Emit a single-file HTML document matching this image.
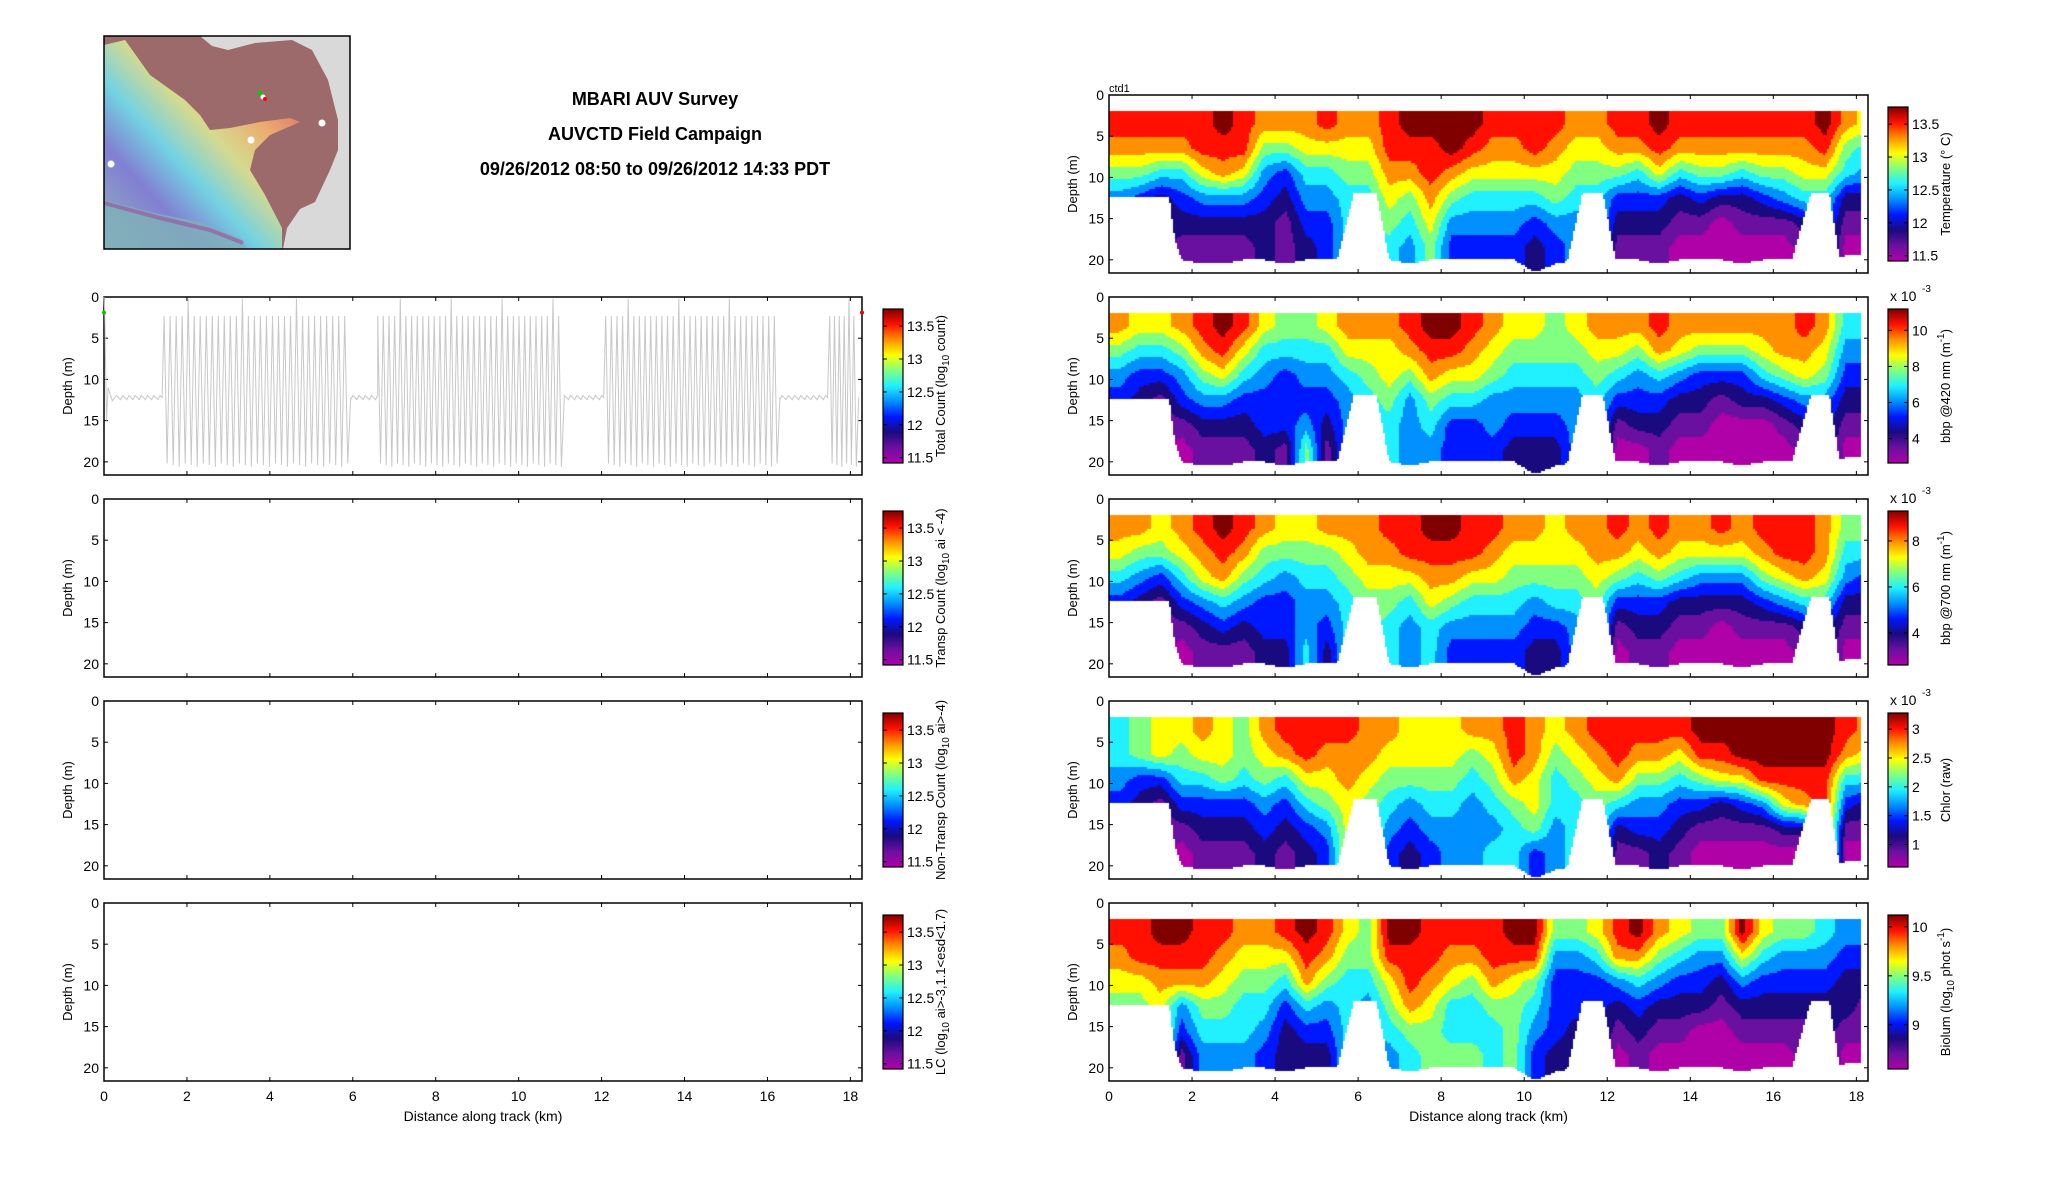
<!DOCTYPE html>
<html><head><meta charset="utf-8"><title>MBARI AUV Survey</title>
<style>
html,body{margin:0;padding:0;background:#fff;}
#wrap{position:relative;width:2052px;height:1188px;overflow:hidden;background:#fff;}
canvas{position:absolute;}
svg{position:absolute;left:0;top:0;}
text{font-family:"Liberation Sans",sans-serif;fill:#000;}
</style></head>
<body>
<div id="wrap">
<canvas id="c0"></canvas>
<canvas id="c1"></canvas>
<canvas id="c2"></canvas>
<canvas id="c3"></canvas>
<canvas id="c4"></canvas>
<svg id="svg" width="2052" height="1188" xmlns="http://www.w3.org/2000/svg">
<defs>
<linearGradient id="jet" x1="0" y1="1" x2="0" y2="0">
<stop offset="0" stop-color="#b000a8"/><stop offset="0.1" stop-color="#6a10a0"/><stop offset="0.2" stop-color="#1a0a80"/>
<stop offset="0.3" stop-color="#0018ff"/><stop offset="0.4" stop-color="#0090ff"/><stop offset="0.5" stop-color="#20f0ff"/>
<stop offset="0.6" stop-color="#80ff80"/><stop offset="0.7" stop-color="#ffff00"/><stop offset="0.8" stop-color="#ff9000"/>
<stop offset="0.9" stop-color="#ff1000"/><stop offset="1" stop-color="#800000"/>
</linearGradient>
<linearGradient id="mapRainbow" x1="0" y1="1" x2="1" y2="0">
<stop offset="0" stop-color="#8fb8c0"/><stop offset="0.25" stop-color="#8080d8"/><stop offset="0.4" stop-color="#70d8e8"/>
<stop offset="0.55" stop-color="#d8e090"/><stop offset="0.7" stop-color="#f0b070"/><stop offset="0.85" stop-color="#e07070"/><stop offset="1" stop-color="#a06868"/>
</linearGradient>
</defs>
<g>
<rect x="104" y="36" width="246" height="213" fill="#d9d9d9"/>
<path d="M104,36 L200,36 L212,46 L228,50 L255,43 L292,40 L312,50 L328,80 L338,120 L338,150 L330,170 L315,202 L300,209 L287,228 L283,249 L104,249 Z" fill="#9c6a6a"/>
<path d="M104,45 L125,40 L150,75 L185,100 L200,115 L210,130 L230,128 L260,122 L290,118 L300,122 L270,135 L255,150 L250,170 L265,195 L282,228 L282,249 L104,249 Z" fill="url(#mapRainbow)" opacity="0.95"/>
<path d="M104,200 L150,212 L200,222 L240,238 L248,249 L104,249 Z" fill="#7fb0b8" opacity="0.8"/>
<path d="M104,203 L160,218 L210,230 L243,243" stroke="#9a50a0" stroke-width="4" fill="none" opacity="0.6"/>
<circle cx="111" cy="164" r="3.5" fill="#fff"/><circle cx="322" cy="123" r="3.5" fill="#fff"/><circle cx="251" cy="140" r="3.5" fill="#fff"/>
<circle cx="260" cy="93" r="2.5" fill="#0c0"/><circle cx="263" cy="97" r="2.5" fill="#fff"/><circle cx="265" cy="99" r="2" fill="#f00"/>
<rect x="104" y="36" width="246" height="213" fill="none" stroke="#000" stroke-width="1.5"/>
</g>
<g font-weight="bold" font-size="18" text-anchor="middle">
<text x="655" y="105" style="font-weight:bold">MBARI AUV Survey</text>
<text x="655" y="140" style="font-weight:bold">AUVCTD Field Campaign</text>
<text x="655" y="175" style="font-weight:bold">09/26/2012 08:50 to 09/26/2012 14:33 PDT</text>
</g>
<g id="axesLayer"></g>
</svg>
</div>
<script>
// ---------- data ----------
const distMax = 18.28, depthMax = 21.6;
const xTicks = [0,2,4,6,8,10,12,14,16,18];
const yTicks = [0,5,10,15,20];
const colBottom = [12.5,12.4,12.4,20,20.5,20.5,20,20,20.5,20,20,20,20,20,20.5,20,20,20,20,20,21.5,20.5,20,20,20,20,20.5,20,20,20,20.5,20,20,20,20,19.5,19.5];
// white gaps (level-flight legs): [slope start, flat start, flat end, slope end, depth]
const gapShapes = [[1.35,1.35,1.45,1.65,12.4],[5.5,5.9,6.45,6.75,12],[11.05,11.4,11.9,12.2,12],[16.45,16.9,17.35,17.6,12]];
const tempCols = [[9,8,6,4,4,4],[9,8,6,3,3,3],[9,8,5,2,2,2],[9,8,5,3,2,1],[9,9,7,4,2,1],[10,9,8,4,2,1],[9,9,7,4,2,1],[8,6,4,3,2,2],[8,6,3,2,1,1],[8,7,5,4,3,2],[9,7,5,4,3,3],[8,7,6,5,5,5],[8,7,6,5,5,5],[9,9,8,7,6,5],[10,9,8,6,5,4],[10,9,9,8,7,6],[10,10,8,6,4,3],[10,9,7,5,4,3],[9,8,7,5,4,3],[9,8,7,5,4,3],[9,9,7,5,3,2],[9,8,7,6,4,3],[8,7,6,5,4,4],[8,7,6,5,5,5],[9,8,6,3,2,1],[9,8,5,3,2,1],[10,9,7,3,2,1],[9,8,5,2,1,0],[9,8,6,3,1,0],[9,8,6,2,0,0],[9,8,5,2,1,0],[9,8,6,3,1,0],[9,8,6,4,1,0],[9,8,7,5,2,1],[10,9,7,5,4,4],[8,6,5,2,1,0],[7,5,4,2,1,0]];
const bbp420Cols = [[8,6,4,3,3,3],[7,5,3,2,2,2],[7,5,3,1,1,1],[8,6,4,3,1,0],[9,8,6,4,2,1],[10,9,7,4,2,1],[9,7,5,3,2,1],[7,5,4,3,3,2],[6,5,3,3,3,1],[6,5,4,3,4,6],[7,5,4,3,2,1],[8,7,5,4,4,4],[8,7,6,5,5,5],[8,7,7,6,5,5],[9,8,6,4,4,4],[10,9,8,6,5,4],[10,9,7,5,3,3],[9,8,7,5,3,3],[8,7,6,4,4,3],[7,6,5,4,3,2],[7,6,5,4,3,2],[6,6,5,4,3,2],[7,6,5,4,4,4],[8,7,6,5,5,5],[8,7,5,3,1,0],[8,6,4,3,2,0],[9,8,5,3,2,1],[8,7,4,2,1,0],[8,6,3,2,1,0],[8,6,3,1,0,0],[8,6,3,2,0,0],[8,7,5,2,0,0],[8,8,6,3,1,0],[9,8,7,4,2,1],[8,7,6,4,3,3],[5,4,3,2,1,0],[5,4,3,2,1,0]];
const bbp700Cols = [[8,7,5,3,3,3],[8,6,4,2,2,2],[7,6,3,1,1,1],[8,7,5,3,1,0],[9,8,7,4,2,1],[10,9,8,5,3,1],[9,8,6,4,2,1],[8,6,5,3,3,2],[7,6,4,3,3,2],[7,6,5,4,4,5],[8,6,5,4,3,2],[8,7,6,5,5,5],[8,8,7,6,6,6],[9,8,7,6,5,5],[9,9,7,5,4,4],[10,9,8,7,5,5],[10,9,8,6,4,3],[9,9,7,5,4,3],[9,8,7,5,4,3],[8,7,6,5,4,3],[8,7,6,4,3,2],[7,7,6,5,3,2],[8,7,6,5,4,4],[8,8,7,6,6,6],[9,8,6,3,1,0],[8,7,5,3,2,1],[9,8,6,3,2,1],[8,7,5,2,1,0],[8,7,4,2,1,0],[9,7,4,2,0,0],[8,7,4,2,1,0],[9,8,6,3,1,0],[9,9,7,4,1,0],[9,9,8,5,2,1],[8,8,7,5,3,3],[6,5,4,2,1,0],[6,5,3,2,1,0]];
const chlorCols = [[5,5,4,3,3,3],[6,6,3,2,2,2],[7,7,3,1,1,1],[7,6,5,3,1,0],[8,7,5,3,2,1],[7,7,6,3,2,1],[6,6,5,3,2,1],[8,7,6,4,3,2],[9,8,5,3,2,1],[9,9,7,5,3,2],[9,8,7,6,4,3],[9,8,8,7,7,7],[8,8,7,6,6,6],[8,7,6,5,4,3],[7,7,6,4,3,2],[7,7,6,5,4,3],[7,7,6,5,4,4],[8,6,5,4,4,4],[8,7,6,5,4,5],[9,9,8,6,5,5],[8,8,7,7,6,3],[7,6,5,5,4,4],[8,7,6,5,5,5],[9,8,7,6,6,6],[9,9,8,5,2,1],[9,8,6,4,3,1],[9,8,6,4,3,2],[9,7,5,3,2,1],[10,9,6,3,1,0],[10,9,7,2,1,0],[10,10,7,3,1,0],[10,10,9,4,1,0],[10,10,9,7,2,0],[10,10,9,8,2,0],[10,10,9,9,9,9],[9,8,5,3,1,0],[8,7,5,2,1,0]];
const biolumCols = [[9,8,7,6,6,6],[9,9,7,6,6,6],[10,9,8,7,7,7],[10,9,8,4,3,1],[9,9,8,6,5,4],[9,8,7,6,5,4],[8,7,6,5,5,4],[8,7,6,5,4,3],[9,7,5,3,2,2],[10,9,8,5,3,2],[9,8,6,4,3,2],[7,6,5,5,5,5],[6,6,5,4,4,4],[10,9,7,6,5,4],[10,9,9,8,6,5],[9,9,8,7,6,6],[9,8,7,5,5,6],[9,8,6,5,5,6],[9,9,8,6,5,5],[10,9,7,6,6,6],[10,9,6,5,4,3],[6,4,3,3,3,2],[6,4,3,3,2,2],[7,5,3,3,3,3],[9,8,4,2,1,0],[10,8,5,3,2,1],[8,6,4,2,1,0],[7,5,3,2,1,0],[6,4,3,2,0,0],[6,4,2,1,0,0],[10,7,4,2,1,0],[7,5,3,2,1,0],[6,4,3,2,1,0],[6,4,3,2,1,1],[5,4,3,2,2,2],[4,3,2,2,1,0],[4,3,2,1,1,0]];
const bandCenters = [3.5,6.5,9.5,12.5,15.5,18.5];
const flatSegs = [[0.3,1.45],[5.95,6.6],[11.1,12.1],[16.3,17.5]];
const yoyoSegs = [[1.45,5.95,31],[6.6,11.1,33],[12.1,16.3,31],[17.5,18.2,6]];
const cbLeftTicks = [11.5,12,12.5,13,13.5];
const cbTempTicks = [11.5,12,12.5,13,13.5];
const cb420Ticks = [4,6,8,10];
const cb700Ticks = [4,6,8];
const cbChlTicks = [1,1.5,2,2.5,3];
const cbBioTicks = [9,9.5,10];

// ---------- layout ----------
const L = {x0:104, x1:862}, R = {x0:1109, x1:1868};
const H = 178;
const leftTops = [297,499,701,903];
const rightTops = [95,297,499,701,903];
const NS = 'http://www.w3.org/2000/svg';
const layer = document.getElementById('axesLayer');
function el(tag, attrs, parent){ const e=document.createElementNS(NS,tag); for(const k in attrs) e.setAttribute(k,attrs[k]); (parent||layer).appendChild(e); return e; }
function xs(ax,km){ return ax.x0 + km/distMax*(ax.x1-ax.x0); }
function ys(top,d){ return top + d/depthMax*H; }

const stops = [[176,0,168],[106,16,160],[26,10,128],[0,24,255],[0,144,255],[32,240,255],[128,255,128],[255,255,0],[255,144,0],[255,16,0],[128,0,0]];
function levelColor(l){ l=Math.max(0,Math.min(10,l)); const c=stops[l]; return 'rgb('+c[0]+','+c[1]+','+c[2]+')'; }

function drawAxes(ax, top, showX, name){
  const g = el('g',{});
  
  
  el('rect',{x:ax.x0,y:top,width:ax.x1-ax.x0,height:H,fill:'none',stroke:'#000','stroke-width':1.5},g);
  xTicks.forEach(t=>{ const x=xs(ax,t);
    el('line',{x1:x,y1:top,x2:x,y2:top+4,stroke:'#000'},g);
    el('line',{x1:x,y1:top+H,x2:x,y2:top+H-4,stroke:'#000'},g);
    if(showX){ const tx=el('text',{x:x,y:top+H+20,'font-size':14,'text-anchor':'middle'},g); tx.textContent=t; }
  });
  yTicks.forEach(t=>{ const y=ys(top,t);
    el('line',{x1:ax.x0,y1:y,x2:ax.x0+4,y2:y,stroke:'#000'},g);
    el('line',{x1:ax.x1,y1:y,x2:ax.x1-4,y2:y,stroke:'#000'},g);
    const tx=el('text',{x:ax.x0-5,y:y+5,'font-size':14,'text-anchor':'end'},g); tx.textContent=t;
  });
  const lx = ax.x0-32, ly = top+H/2;
  const yl = el('text',{x:lx,y:ly,'font-size':13,'text-anchor':'middle',transform:'rotate(-90 '+lx+' '+ly+')'},g);
  
  
  yl.textContent='Depth (m)';
  if(showX){ const xl=el('text',{x:(ax.x0+ax.x1)/2,y:top+H+40,'font-size':14,'text-anchor':'middle'},g);
    
    
    xl.textContent='Distance along track (km)'; }
}

function drawColorbar(x, top, vmin, vmax, ticks, labelParts, name, exp){
  const g = el('g',{});
  
  
  const y0=top+12, y1=top+166;
  el('rect',{x:x,y:y0,width:20,height:y1-y0,fill:'url(#jet)',stroke:'#000','stroke-width':1.2},g);
  ticks.forEach(t=>{ const y = y1 - (t-vmin)/(vmax-vmin)*(y1-y0);
    el('line',{x1:x+20,y1:y,x2:x+16,y2:y,stroke:'#000'},g);
    el('line',{x1:x,y1:y,x2:x+4,y2:y,stroke:'#000'},g);
    const tx=el('text',{x:x+24,y:y+5,'font-size':14},g); tx.textContent=t; });
  if(exp){ const e=el('text',{x:x+2,y:top+4,'font-size':14},g); e.textContent='x 10';
    const s=el('text',{x:x+34,y:top-5,'font-size':10},g); s.textContent='-3'; }
  const lx=x+62, ly=top+89;
  const t=el('text',{x:lx,y:ly,'font-size':13,'text-anchor':'middle',transform:'rotate(-90 '+lx+' '+ly+')'},g);
  labelParts.forEach(p=>{ const ts=el('tspan',{},t); ts.textContent=p[0];
    if(p[1]==='sub'){ ts.setAttribute('font-size','10'); ts.setAttribute('dy','4'); }
    else if(p[1]==='sup'){ ts.setAttribute('font-size','10'); ts.setAttribute('dy','-6'); }
    else if(p[1]==='subend'){ ts.setAttribute('dy','-4'); }
    else if(p[1]==='supend'){ ts.setAttribute('dy','6'); } });
}

const leftNames=['total-count-panel','transp-count-panel','non-transp-count-panel','lc-panel'];
leftTops.forEach((t,i)=>drawAxes(L,t,i===3,leftNames[i]));
const rightNames=['temperature-panel','bbp420-panel','bbp700-panel','chlor-panel','biolum-panel'];
rightTops.forEach((t,i)=>drawAxes(R,t,i===4,rightNames[i]));
const ctd=el('text',{x:R.x0,y:rightTops[0]-3,'font-size':11});


ctd.textContent='ctd1';

const cbL = 883;
drawColorbar(cbL,leftTops[0],11.42,13.76,cbLeftTicks,[['Total Count (log'],['10','sub'],[' count)','subend']],'total-count-colorbar');
drawColorbar(cbL,leftTops[1],11.42,13.76,cbLeftTicks,[['Transp Count (log'],['10','sub'],[' ai < -4)','subend']],'transp-count-colorbar');
drawColorbar(cbL,leftTops[2],11.42,13.76,cbLeftTicks,[['Non-Transp Count (log'],['10','sub'],[' ai>-4)','subend']],'non-transp-colorbar');
drawColorbar(cbL,leftTops[3],11.42,13.76,cbLeftTicks,[['LC (log'],['10','sub'],[' ai>-3,1.1<esd<1.7)','subend']],'lc-colorbar');
drawColorbar(1888,rightTops[0],11.42,13.76,cbTempTicks,[['Temperature (° C)']],'temperature-colorbar');
drawColorbar(1888,rightTops[1],2.65,11.18,cb420Ticks,[['bbp @420 nm (m'],['-1','sup'],[')','supend']],'bbp420-colorbar',true);
drawColorbar(1888,rightTops[2],2.61,9.30,cb700Ticks,[['bbp @700 nm (m'],['-1','sup'],[')','supend']],'bbp700-colorbar',true);
drawColorbar(1888,rightTops[3],0.61,3.28,cbChlTicks,[['Chlor (raw)']],'chlor-colorbar',true);
drawColorbar(1888,rightTops[4],8.55,10.12,cbBioTicks,[['Biolum (log'],['10','sub'],[' phot s','subend'],['-1','sup'],[')','supend']],'biolum-colorbar');

// yo-yo trace in total count panel
(function(){
  const top=leftTops[0]; let pts=[];
  pts.push([0,0],[0.02,2],[0.06,15],[0.1,11],[0.2,12.6]);
  const allSegs=[];
  flatSegs.forEach(s=>allSegs.push(['f',s])); yoyoSegs.forEach(s=>allSegs.push(['y',s]));
  allSegs.sort((a,b)=>a[1][0]-b[1][0]);
  allSegs.forEach(([k,s])=>{
    if(k==='f'){ for(let x=s[0];x<=s[1];x+=0.05) pts.push([x,12.2+((Math.round(x*20)%3)-1)*0.25]); }
    else { const n=s[2], step=(s[1]-s[0])/n;
      for(let j=0;j<n;j++){ const a=s[0]+j*step; pts.push([a,(j%9===4)?0.2:2.3]); pts.push([a+step*0.5,20.2+(j%3)*0.2]); }
      pts.push([s[1],12.2]); }
  });
  const d=pts.map((p,i)=>(i?'L':'M')+xs(L,p[0]).toFixed(1)+','+ys(top,p[1]).toFixed(1)).join(' ');
  const path=el('path',{d:d,fill:'none',stroke:'#c8c8c8','stroke-width':1});
  
  
  el('circle',{cx:L.x0,cy:ys(top,1.9),r:2,fill:'#0c0'});
  el('circle',{cx:L.x1,cy:ys(top,1.9),r:2,fill:'#e00'});
})();

function bottomAt(km, f, i0, i1, fx){
  let b = colBottom[i0]*(1-fx)+colBottom[i1]*fx;
  gapShapes.forEach(g=>{
    const [a,b1,b2,c,dep]=g; let v=null;
    if(km>=b1&&km<=b2) v=dep;
    else if(km>a&&km<b1) v=20-(km-a)/(b1-a)*(20-dep);
    else if(km>b2&&km<c) v=dep+(km-b2)/(c-b2)*(20-dep);
    if(v!==null && v<b) b=v;
  });
  if(km<1.35) b=Math.min(b,12.4);
  return b;
}

function drawSection(id, cols, top){
  const cv=document.getElementById(id);
  const w=R.x1-R.x0, h=H;
  cv.width=w; cv.height=h; cv.style.left=R.x0+'px'; cv.style.top=top+'px';
  const ctx=cv.getContext('2d');
  const n=cols.length, cell=2;
  for(let px=0;px<w;px+=cell){
    const km=(px+cell/2)/w*distMax;
    if(km>18.1) continue;
    let f=km/0.5-0.5; f=Math.max(0,Math.min(n-1,f));
    const i0=Math.floor(f), i1=Math.min(n-1,i0+1), fx=f-i0;
    const bottom=bottomAt(km,f,i0,i1,fx);
    for(let py=0;py<h;py+=cell){
      const d=(py+cell/2)/h*depthMax;
      if(d<2||d>bottom) continue;
      let r=(d-bandCenters[0])/3; r=Math.max(0,Math.min(bandCenters.length-1,r));
      const r0=Math.floor(r), r1=Math.min(bandCenters.length-1,r0+1), fy=r-r0;
      const v=(cols[i0][r0]*(1-fx)+cols[i1][r0]*fx)*(1-fy)+(cols[i0][r1]*(1-fx)+cols[i1][r1]*fx)*fy;
      ctx.fillStyle=levelColor(Math.round(v));
      ctx.fillRect(px,py,cell,cell);
    }
  }
}
drawSection('c0',tempCols,rightTops[0]);
drawSection('c1',bbp420Cols,rightTops[1]);
drawSection('c2',bbp700Cols,rightTops[2]);
drawSection('c3',chlorCols,rightTops[3]);
drawSection('c4',biolumCols,rightTops[4]);
</script>
</body></html>
